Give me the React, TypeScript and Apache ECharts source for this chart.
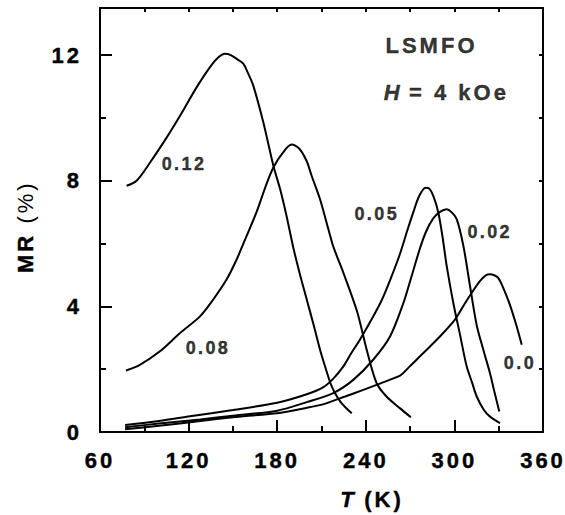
import React, { useEffect, useRef } from 'react';
import * as echarts from 'echarts';

// ---- data ----
const t012 = [78, 84.8, 93.9, 105.2, 114.2, 125.5, 134.5, 140, 144.6, 148.5, 152.5, 157, 160, 163.8, 170.6, 177.4, 182, 186, 191, 195.5, 200, 205, 209, 213, 216, 219, 223, 227, 230.5];
const mr012 = [7.84, 8.0, 8.58, 9.38, 10.07, 10.98, 11.62, 11.92, 12.04, 12.0, 11.88, 11.73, 11.45, 11.03, 9.86, 8.48, 7.73, 6.95, 5.85, 5.0, 4.22, 3.35, 2.62, 2.0, 1.56, 1.25, 0.95, 0.75, 0.6];

const t008 = [77.6, 87, 100.6, 114.2, 127.7, 136.7, 145.8, 152.6, 158, 166, 172, 177.4, 184, 189.8, 195, 200, 203.3, 209, 215, 218, 224.8, 234, 240.6, 247.3, 254, 263, 270.5];
const mr008 = [1.96, 2.14, 2.57, 3.15, 3.68, 4.22, 4.86, 5.5, 6.1, 7.0, 7.8, 8.42, 8.9, 9.15, 9.02, 8.62, 8.16, 7.41, 6.4, 5.9, 5.07, 3.85, 2.62, 1.56, 1.13, 0.76, 0.47];

const t005 = [77, 100, 121, 150, 180, 200, 211, 218, 224.8, 230, 236, 245, 251, 257, 263, 268, 272.2, 276, 280.5, 283, 285.7, 289.1, 292, 294.8, 299.3, 303.8, 308.3, 312, 315.1, 320, 324.1, 330.9];
const mr005 = [0.22, 0.35, 0.5, 0.7, 0.93, 1.2, 1.42, 1.7, 2.09, 2.5, 2.94, 3.68, 4.22, 4.9, 5.65, 6.4, 7.0, 7.5, 7.78, 7.75, 7.52, 6.99, 6.2, 5.28, 4.1, 3.1, 2.09, 1.57, 1.13, 0.7, 0.49, 0.28];

const t002 = [77, 100, 128, 150, 180, 200, 218, 231.5, 245, 256.4, 265.4, 270, 276.7, 281, 285.7, 290, 294.8, 298, 301.6, 306.1, 310.6, 315.1, 320, 324.1, 327, 330.4];
const mr002 = [0.15, 0.27, 0.4, 0.52, 0.68, 0.95, 1.24, 1.66, 2.3, 3.04, 4.1, 4.8, 5.85, 6.4, 6.8, 7.0, 7.09, 7.0, 6.77, 5.92, 4.64, 3.4, 2.55, 1.87, 1.3, 0.65];

const t000 = [77, 100, 128, 150, 180, 200, 211, 226, 238.3, 250, 263.5, 270, 276.7, 283, 290.2, 300.4, 307.2, 312, 317.3, 321, 324.1, 327, 329.7, 333, 337.6, 342.2, 345.6];
const mr000 = [0.09, 0.2, 0.35, 0.47, 0.6, 0.77, 0.88, 1.13, 1.34, 1.55, 1.8, 2.1, 2.41, 2.7, 3.04, 3.58, 4.1, 4.45, 4.8, 4.98, 5.02, 4.99, 4.91, 4.6, 4.05, 3.36, 2.78];

const curveNames = ['0.12', '0.08', '0.05', '0.02', '0.0'];
const curveLabelT = [116.9, 133.1, 247.4, 323.9, 344.4];
const curveLabelMR = [8.53, 2.68, 6.93, 6.37, 2.21];

// annotation texts (the italic H of "H = 4 kOe" is its own text)
const annoNames = ['LSMFO', 'H', '= 4 kOe'];
const annoT = [284.5, 258.6, 303.1];
const annoMR = [12.32, 10.82, 10.82];

const xTicks = [60, 120, 180, 240, 300, 360];
const yTicks = [0, 4, 8, 12];

const FONT = 'Liberation Sans, Arial, Helvetica, sans-serif';

const zip = (t: number[], m: number[]) => t.map((v, i) => [v, m[i]]);

const css = `
#chart text[style*="22px"]{letter-spacing:3px}
#chart text[style*="18px"]{letter-spacing:2.4px}
`;

function buildOption() {
  const black = '#000';
  const heavy = { textBorderColor: black, textBorderWidth: 0.4 };
  const baseAxis = {
    type: 'value',
    splitLine: { show: false },
    minorSplitLine: { show: false },
  };
  const lineSeries = [
    zip(t012, mr012),
    zip(t008, mr008),
    zip(t005, mr005),
    zip(t002, mr002),
    zip(t000, mr000),
  ].map((d, i) => ({
    type: 'line',
    name: curveNames[i],
    data: d,
    xAxisIndex: 0,
    yAxisIndex: 0,
    symbol: 'none',
    smooth: i === 4 ? 0.2 : 0.3,
    lineStyle: { color: black, width: 2 },
    silent: true,
  }));
  const txt = (text: string, x: number, y: number, extra: any = {}, rotation = 0) => ({
    type: 'text',
    x,
    y,
    rotation,
    silent: true,
    style: {
      text,
      fill: black,
      fontSize: 22,
      fontWeight: 'bold',
      fontFamily: FONT,
      align: 'center',
      verticalAlign: 'middle',
      stroke: black,
      lineWidth: 0.4,
      ...extra,
    },
  });
  return {
    animation: false,
    backgroundColor: '#fff',
    grid: { left: 100, right: 22, top: 8, bottom: 83 },
    xAxis: [
      {
        ...baseAxis,
        min: xTicks[0],
        max: xTicks[xTicks.length - 1],
        interval: 60,
        position: 'bottom',
        axisLine: { show: true, onZero: false, lineStyle: { color: black, width: 2 } },
        axisTick: { show: true, inside: true, length: 12, lineStyle: { color: black, width: 2 } },
        axisLabel: { color: black, fontSize: 22, fontWeight: 'bold', fontFamily: FONT, margin: 17, ...heavy },
      },
      {
        ...baseAxis,
        min: 60,
        max: 360,
        interval: 30,
        position: 'bottom',
        axisLine: { show: false, onZero: false },
        axisTick: { show: true, inside: true, length: 6, lineStyle: { color: black, width: 2 } },
        axisLabel: { show: false },
      },
      {
        ...baseAxis,
        min: 60,
        max: 360,
        interval: 30,
        position: 'top',
        axisLine: { show: true, onZero: false, lineStyle: { color: black, width: 2 } },
        axisTick: { show: true, inside: true, length: 4, lineStyle: { color: black, width: 2 } },
        axisLabel: { show: false },
      },
    ],
    yAxis: [
      {
        ...baseAxis,
        min: yTicks[0],
        max: 13.5,
        interval: 4,
        position: 'left',
        axisLine: { show: true, onZero: false, lineStyle: { color: black, width: 2 } },
        axisTick: { show: true, inside: true, length: 12, lineStyle: { color: black, width: 2 } },
        axisLabel: { color: black, fontSize: 22, fontWeight: 'bold', fontFamily: FONT, margin: 18, showMaxLabel: false, ...heavy },
      },
      {
        ...baseAxis,
        min: 0,
        max: 13.5,
        interval: 2,
        position: 'left',
        axisLine: { show: false, onZero: false },
        axisTick: { show: true, inside: true, length: 6, lineStyle: { color: black, width: 2 } },
        axisLabel: { show: false },
      },
      {
        ...baseAxis,
        min: 0,
        max: 13.5,
        interval: 2,
        position: 'right',
        axisLine: { show: true, onZero: false, lineStyle: { color: black, width: 2 } },
        axisTick: { show: true, inside: true, length: 4, lineStyle: { color: black, width: 2 } },
        axisLabel: { show: false },
      },
    ],
    series: [
      ...lineSeries,
      {
        type: 'scatter',
        symbolSize: 0,
        silent: true,
        data: curveNames.map((n, i) => ({ name: n, value: [curveLabelT[i], curveLabelMR[i]] })),
        label: {
          show: true,
          position: 'inside',
          formatter: '{b}',
          color: black,
          fontSize: 18,
          fontWeight: 'bold',
          fontFamily: FONT,
          ...heavy,
        },
      },
      {
        type: 'scatter',
        symbolSize: 0,
        silent: true,
        data: annoNames.map((n, i) => ({
          name: n,
          value: [annoT[i], annoMR[i]],
          label: n === 'H' ? { fontStyle: 'italic' } : {},
        })),
        label: {
          show: true,
          position: 'inside',
          formatter: '{b}',
          color: black,
          fontSize: 22,
          fontWeight: 'bold',
          fontFamily: FONT,
          ...heavy,
        },
      },
    ],
    graphic: [
      txt('T', 348.5, 499, { fontStyle: 'italic' }),
      txt('(K)', 384, 499),
      txt('MR', 25, 253, {}, Math.PI / 2),
      txt('(%)', 25, 202, { fontWeight: 'normal', lineWidth: 0 }, Math.PI / 2),
    ],
  };
}

export default function App() {
  const ref = useRef<HTMLDivElement>(null);
  useEffect(() => {
    if (!ref.current) return;
    const chart = echarts.init(ref.current, undefined, { renderer: 'svg', width: 565, height: 515 });
    chart.setOption(buildOption() as any);
    return () => chart.dispose();
  }, []);
  return (
    <>
      <style>{css}</style>
      <div
        id="chart"
        ref={ref}
        style={{ position: 'fixed', left: 0, top: 0, width: 565, height: 515, background: '#fff' }}
      />
    </>
  );
}
